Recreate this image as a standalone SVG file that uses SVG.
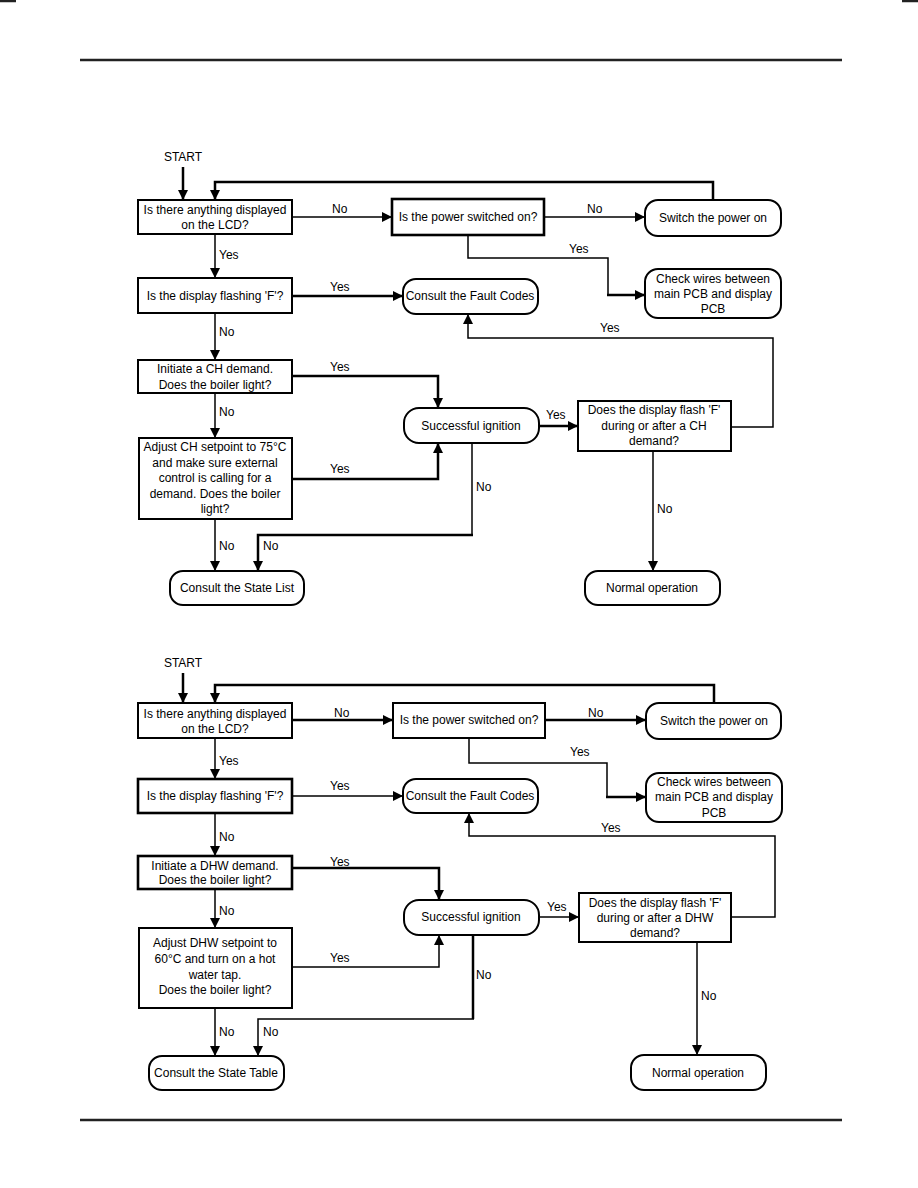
<svg xmlns="http://www.w3.org/2000/svg" width="918" height="1188" viewBox="0 0 918 1188">
<style>
text{font-family:"Liberation Sans",Arial,sans-serif;font-size:12px;fill:#000}
.c{text-anchor:middle}
.box{fill:#fff;stroke:#000;stroke-width:2}
.bt{stroke-width:2.6}
.ln{fill:none;stroke:#000;stroke-width:1.5}
.tk{stroke-width:2.5}
.rule{stroke:#222;stroke-width:2.5}
</style>
<defs>
<marker id="ah" markerUnits="userSpaceOnUse" markerWidth="11" markerHeight="11" refX="10" refY="5" orient="auto">
<path d="M0,0 L10,5 L0,10 z" fill="#000"/>
</marker>
</defs>
<rect width="918" height="1188" fill="#fff"/>
<g id="page">
<line class="rule" x1="0" y1="1" x2="16" y2="1"/>
<line class="rule" x1="902" y1="1" x2="918" y2="1"/>
<line class="rule" x1="80" y1="60" x2="842" y2="60"/>
<line class="rule" x1="80" y1="1120" x2="842" y2="1120"/>
</g>

<g id="connectors">
<!-- top chart -->
<path class="ln tk" d="M183,167 V200" marker-end="url(#ah)"/>
<path class="ln tk" d="M713,200 V182 H215 V200" marker-end="url(#ah)"/>
<path class="ln" d="M292,217 H392" marker-end="url(#ah)"/>
<path class="ln" d="M544,217 H645" marker-end="url(#ah)"/>
<path class="ln" d="M468,235 V258 H608 V295"/>
<path class="ln tk" d="M607,295 H645" marker-end="url(#ah)"/>
<path class="ln" d="M215,234 V278" marker-end="url(#ah)"/>
<path class="ln tk" d="M292,296 H403" marker-end="url(#ah)"/>
<path class="ln" d="M215,313 V360" marker-end="url(#ah)"/>
<path class="ln tk" d="M292,376 H438 V408" marker-end="url(#ah)"/>
<path class="ln" d="M215,393 V438" marker-end="url(#ah)"/>
<path class="ln tk" d="M292,479 H438 V443" marker-end="url(#ah)"/>
<path class="ln tk" d="M539,426 H578" marker-end="url(#ah)"/>
<path class="ln" d="M731,427 H773 V338 H468 V314" marker-end="url(#ah)"/>
<path class="ln" d="M472,443 V535"/>
<path class="ln tk" d="M473,535 H258 V571" marker-end="url(#ah)"/>
<path class="ln" d="M215,519 V571" marker-end="url(#ah)"/>
<path class="ln" d="M653,451 V571" marker-end="url(#ah)"/>
<!-- bottom chart -->
<path class="ln tk" d="M183,673 V703" marker-end="url(#ah)"/>
<path class="ln tk" d="M714,703 V685 H215 V703" marker-end="url(#ah)"/>
<path class="ln tk" d="M292,720 H393" marker-end="url(#ah)"/>
<path class="ln tk" d="M545,720 H646" marker-end="url(#ah)"/>
<path class="ln" d="M469,738 V763 H607 V797"/>
<path class="ln tk" d="M606,797 H646" marker-end="url(#ah)"/>
<path class="ln" d="M215,738 V779" marker-end="url(#ah)"/>
<path class="ln" d="M292,796 H403" marker-end="url(#ah)"/>
<path class="ln" d="M215,813 V856" marker-end="url(#ah)"/>
<path class="ln tk" d="M292,868 H439 V900" marker-end="url(#ah)"/>
<path class="ln" d="M215,889 V928" marker-end="url(#ah)"/>
<path class="ln" d="M292,967 H439 V935" marker-end="url(#ah)"/>
<path class="ln" d="M539,917 H579" marker-end="url(#ah)"/>
<path class="ln" d="M731,917 H775 V836 H469 V813" marker-end="url(#ah)"/>
<path class="ln tk" d="M473,935 V1019"/>
<path class="ln" d="M474,1019 H258 V1056" marker-end="url(#ah)"/>
<path class="ln" d="M215,1008 V1056" marker-end="url(#ah)"/>
<path class="ln" d="M697,942 V1055" marker-end="url(#ah)"/>
</g>

<g id="labels">
<text class="c" x="183" y="161">START</text>
<text x="332" y="213">No</text>
<text x="587" y="213">No</text>
<text x="569" y="253">Yes</text>
<text x="219" y="259">Yes</text>
<text x="330" y="291">Yes</text>
<text x="219" y="336">No</text>
<text x="330" y="371">Yes</text>
<text x="219" y="416">No</text>
<text x="330" y="473">Yes</text>
<text x="546" y="419">Yes</text>
<text x="600" y="332">Yes</text>
<text x="476" y="491">No</text>
<text x="219" y="550">No</text>
<text x="263" y="550">No</text>
<text x="657" y="513">No</text>

<text class="c" x="183" y="667">START</text>
<text x="334" y="717">No</text>
<text x="588" y="717">No</text>
<text x="570" y="756">Yes</text>
<text x="219" y="765">Yes</text>
<text x="330" y="790">Yes</text>
<text x="219" y="841">No</text>
<text x="330" y="866">Yes</text>
<text x="219" y="915">No</text>
<text x="330" y="962">Yes</text>
<text x="547" y="911">Yes</text>
<text x="601" y="832">Yes</text>
<text x="476" y="979">No</text>
<text x="219" y="1036">No</text>
<text x="263" y="1036">No</text>
<text x="701" y="1000">No</text>
</g>

<!-- top chart nodes -->
<g id="t_lcd"><rect class="box" x="138" y="200" width="154" height="34"/>
<text class="c" x="215" y="214">Is there anything displayed</text><text class="c" x="215" y="229">on the LCD?</text></g>
<g id="t_power"><rect class="box bt" x="392" y="199" width="152" height="36"/>
<text class="c" x="468" y="221">Is the power switched on?</text></g>
<g id="t_switch"><rect class="box" x="645" y="200" width="136" height="36" rx="13"/>
<text class="c" x="713" y="222">Switch the power on</text></g>
<g id="t_check"><rect class="box" x="645" y="269" width="136" height="49" rx="13"/>
<text class="c" x="713" y="283">Check wires between</text><text class="c" x="713" y="298">main PCB and display</text><text class="c" x="713" y="313">PCB</text></g>
<g id="t_flash"><rect class="box" x="138" y="278" width="154" height="35"/>
<text class="c" x="215" y="300">Is the display flashing 'F'?</text></g>
<g id="t_fault"><rect class="box" x="403" y="279" width="135" height="35" rx="13"/>
<text class="c" x="470" y="300">Consult the Fault Codes</text></g>
<g id="t_ch"><rect class="box" x="138" y="360" width="154" height="33"/>
<text class="c" x="215" y="373">Initiate a CH demand.</text><text class="c" x="215" y="389">Does the boiler light?</text></g>
<g id="t_ign"><rect class="box" x="404" y="408" width="135" height="35" rx="15"/>
<text class="c" x="471" y="430">Successful ignition</text></g>
<g id="t_dflash"><rect class="box" x="578" y="401" width="153" height="50"/>
<text class="c" x="654" y="414">Does the display flash 'F'</text><text class="c" x="654" y="430">during or after a CH</text><text class="c" x="654" y="445">demand?</text></g>
<g id="t_adjust"><rect class="box" x="139" y="438" width="153" height="81"/>
<text class="c" x="215" y="451">Adjust CH setpoint to 75°C</text><text class="c" x="215" y="467">and make sure external</text><text class="c" x="215" y="482">control is calling for a</text><text class="c" x="215" y="498">demand. Does the boiler</text><text class="c" x="215" y="513">light?</text></g>
<g id="t_state"><rect class="box" x="170" y="571" width="134" height="34" rx="13"/>
<text class="c" x="237" y="592">Consult the State List</text></g>
<g id="t_normal"><rect class="box" x="585" y="571" width="135" height="34" rx="13"/>
<text class="c" x="652" y="592">Normal operation</text></g>

<!-- bottom chart nodes -->
<g id="b_lcd"><rect class="box" x="138" y="703" width="154" height="35"/>
<text class="c" x="215" y="718">Is there anything displayed</text><text class="c" x="215" y="733">on the LCD?</text></g>
<g id="b_power"><rect class="box" x="393" y="703" width="152" height="35"/>
<text class="c" x="469" y="724">Is the power switched on?</text></g>
<g id="b_switch"><rect class="box" x="646" y="703" width="135" height="36" rx="13"/>
<text class="c" x="714" y="725">Switch the power on</text></g>
<g id="b_check"><rect class="box" x="646" y="773" width="136" height="49" rx="13"/>
<text class="c" x="714" y="786">Check wires between</text><text class="c" x="714" y="801">main PCB and display</text><text class="c" x="714" y="817">PCB</text></g>
<g id="b_flash"><rect class="box bt" x="138" y="779" width="154" height="34"/>
<text class="c" x="215" y="800">Is the display flashing 'F'?</text></g>
<g id="b_fault"><rect class="box" x="403" y="779" width="135" height="34" rx="13"/>
<text class="c" x="470" y="800">Consult the Fault Codes</text></g>
<g id="b_dhw"><rect class="box bt" x="138" y="856" width="154" height="33"/>
<text class="c" x="215" y="870">Initiate a DHW demand.</text><text class="c" x="215" y="884">Does the boiler light?</text></g>
<g id="b_ign"><rect class="box" x="404" y="900" width="135" height="35" rx="15"/>
<text class="c" x="471" y="921">Successful ignition</text></g>
<g id="b_dflash"><rect class="box" x="579" y="893" width="152" height="49"/>
<text class="c" x="655" y="907">Does the display flash 'F'</text><text class="c" x="655" y="922">during or after a DHW</text><text class="c" x="655" y="937">demand?</text></g>
<g id="b_adjust"><rect class="box" x="139" y="928" width="153" height="80"/>
<text class="c" x="215" y="947">Adjust DHW setpoint to</text><text class="c" x="215" y="963">60°C and turn on a hot</text><text class="c" x="215" y="979">water tap.</text><text class="c" x="215" y="994">Does the boiler light?</text></g>
<g id="b_state"><rect class="box" x="149" y="1056" width="135" height="34" rx="13"/>
<text class="c" x="216" y="1077">Consult the State Table</text></g>
<g id="b_normal"><rect class="box" x="631" y="1055" width="135" height="35" rx="13"/>
<text class="c" x="698" y="1077">Normal operation</text></g>
</svg>
